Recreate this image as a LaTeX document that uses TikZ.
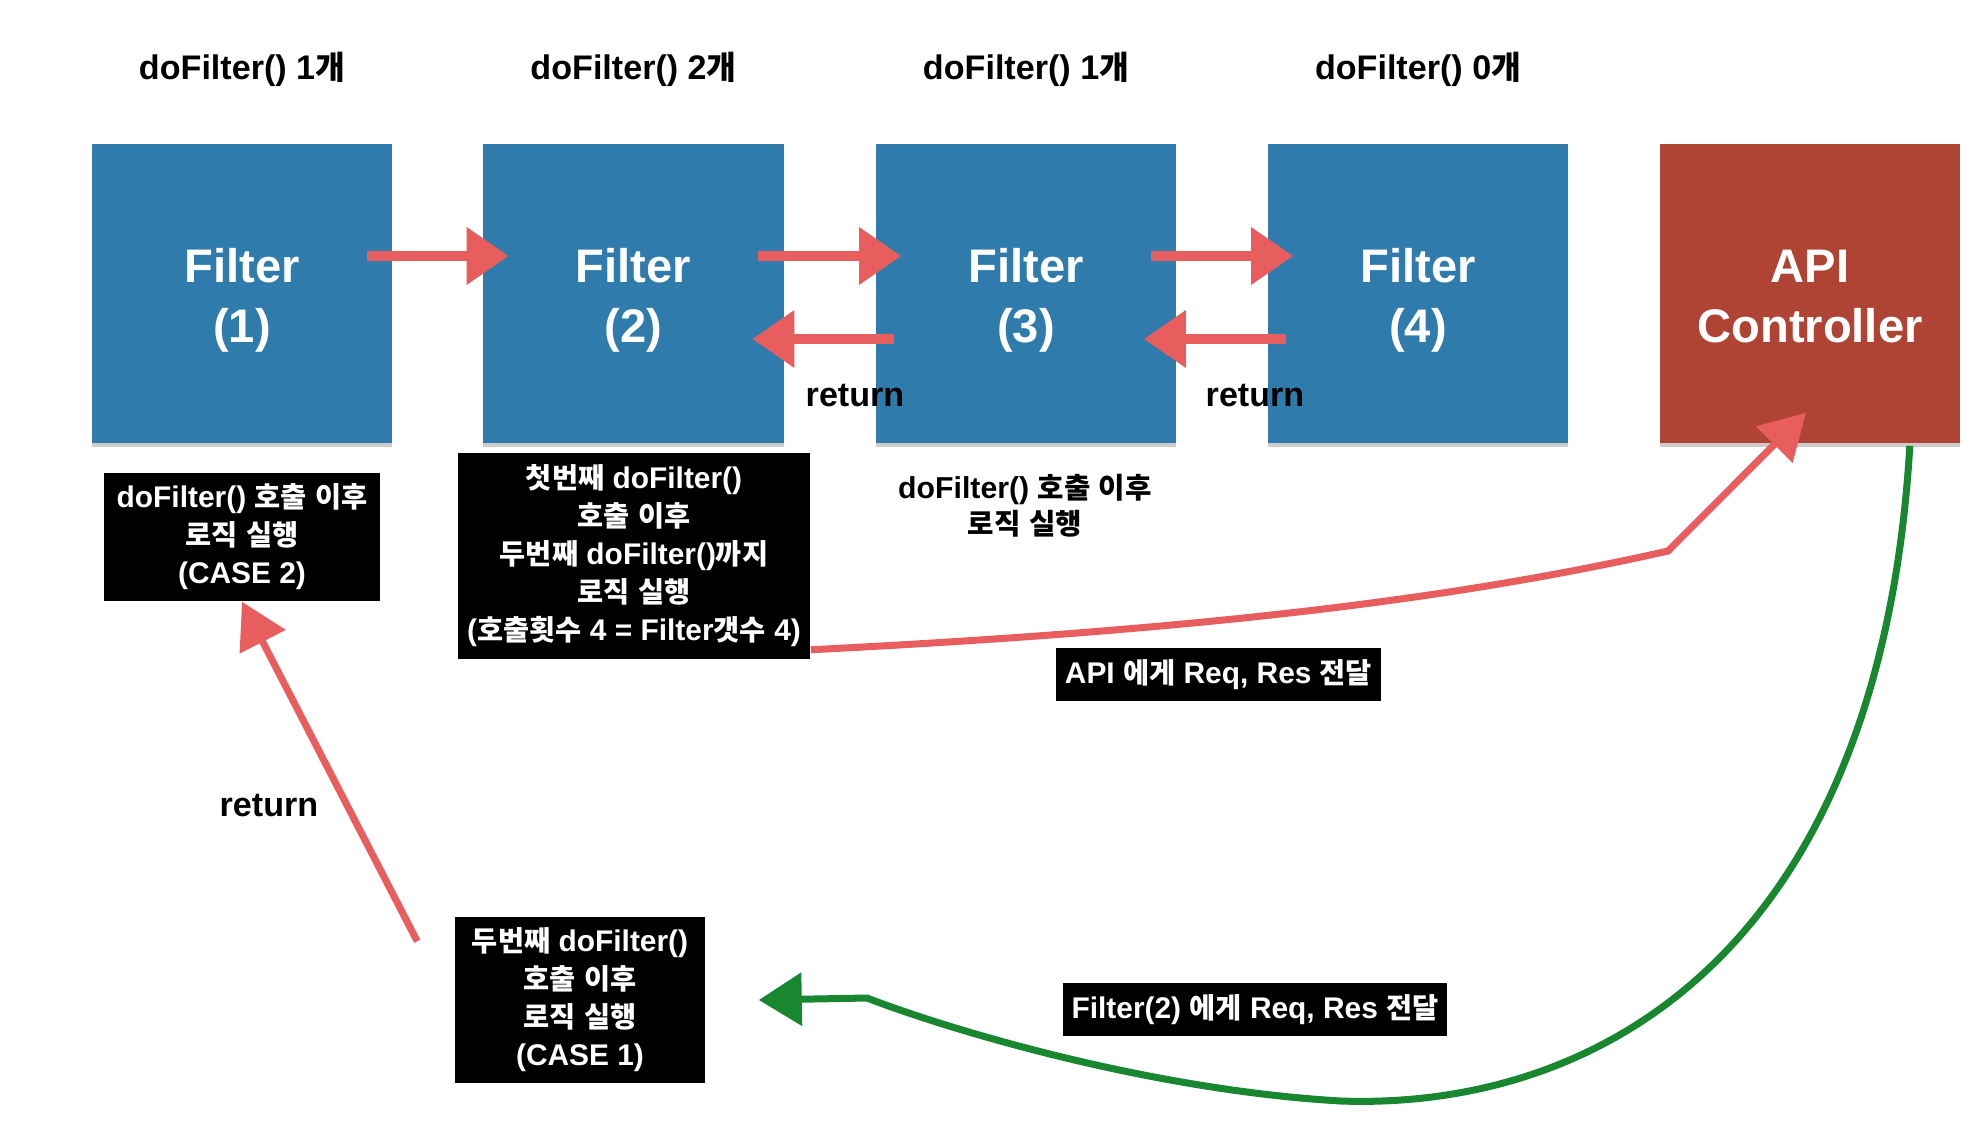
\documentclass[tikz,border=0pt]{standalone}
\usepackage{fontspec}
\setmainfont{Liberation Sans}
\newfontfamily\krfont{Noto Sans CJK KR Bold}[Scale=0.95]
\usetikzlibrary{arrows.meta,calc,shadows}

% Hangul goes to the CJK font, the rest stays in Liberation Sans
\XeTeXinterchartokenstate=1
\newXeTeXintercharclass\hangulclass
\newcount\hcode
\hcode="AC00
\loop
  \XeTeXcharclass\hcode=\hangulclass
  \ifnum\hcode<"D7A3 \advance\hcode by 1
\repeat
\XeTeXinterchartoks 0 \hangulclass = {\begingroup\krfont}
\XeTeXinterchartoks 4095 \hangulclass = {\begingroup\krfont}
\XeTeXinterchartoks \hangulclass 0 = {\endgroup}
\XeTeXinterchartoks \hangulclass 4095 = {\endgroup}

\definecolor{filterblue}{RGB}{47,123,172}
\definecolor{apired}{RGB}{176,68,52}
\definecolor{arrowred}{RGB}{232,93,93}
\definecolor{arrowgreen}{RGB}{24,135,48}

\begin{document}
\begin{tikzpicture}[x=0.01cm, y=-0.01cm,
  filterbox/.style={fill=filterblue, text=white, minimum width=3cm, minimum height=2.99cm,
    align=center, inner sep=0pt, font=\bfseries\fontsize{13.4}{17.1}\selectfont,
    drop shadow={shadow xshift=0pt, shadow yshift=-1.2pt, opacity=0.2, fill=black}},
  toplabel/.style={font=\bfseries\fontsize{9.7}{11}\selectfont},
  blackbox/.style={fill=black, text=white, align=center, inner sep=0pt,
    font=\bfseries\fontsize{8.5}{10.8}\selectfont},
  plaintext/.style={align=center, font=\bfseries\fontsize{8.6}{10.2}\selectfont},
  fwd/.style={draw=arrowred, line width=0.1cm, -{Triangle[length=0.42cm, width=0.55cm]}},
  redline/.style={draw=arrowred, line width=0.07cm, -{Triangle[length=0.45cm, width=0.5cm]}},
  greenline/.style={draw=arrowgreen, line width=0.07cm, -{Triangle[length=0.43cm, width=0.52cm]}}]
  \useasboundingbox (0,0) rectangle (1980,1142);

  % Filters and the counts above them
  \foreach \i/\x/\cnt in {1/242/1, 2/633.5/2, 3/1026/1, 4/1418/0} {
    \node[filterbox] (f\i) at (\x,293.5) {\rule{0pt}{13.8pt}Filter\\(\i)};
    \node[toplabel] (cnt\i) at (\x,69) {doFilter() \cnt{}개};
  }
  \node[filterbox, fill=apired] (api) at (1810,293.5) {\rule{0pt}{11pt}API\\Controller};

  % Chain forward and back
  \foreach \a/\b in {f1/f2, f2/f3, f3/f4}
    \draw[fwd] ($(\a.east)+(-26,-37.5)$) -- ($(\b.west)+(26,-37.5)$);
  \draw[fwd] ($(f3.west)+(19,45.5)$) -- ($(f2.east)+(-32,45.5)$);
  \draw[fwd] ($(f4.west)+(19,45.5)$) -- ($(f3.east)+(-33,45.5)$);
  \node[toplabel] (ret1) at (855,396) {return};
  \node[toplabel] (ret2) at (1255,396) {return};

  % Logic boxes
  \node[blackbox, minimum width=2.76cm, minimum height=1.28cm] (case2) at (242,537)
    {doFilter() 호출 이후\\로직 실행\\(CASE 2)};
  \node[blackbox, minimum width=3.52cm, minimum height=2.06cm] (first) at (634,556)
    {첫번째 doFilter()\\호출 이후\\두번째 doFilter()까지\\로직 실행\\(호출횟수 4 = Filter갯수 4)};
  \node[plaintext] (after3) at (1025,506) {doFilter() 호출 이후\\로직 실행};
  \node[blackbox, minimum width=2.5cm, minimum height=1.66cm] (case1) at (580,1000)
    {두번째 doFilter()\\호출 이후\\로직 실행\\(CASE 1)};
  \node[blackbox, minimum width=3.25cm, minimum height=0.53cm] (toapi) at (1218.5,674.5)
    {API 에게 Req, Res 전달};
  \node[blackbox, minimum width=3.84cm, minimum height=0.53cm] (tofilter) at (1255,1009.5)
    {Filter(2) 에게 Req, Res 전달};

  % Req, Res to the API
  \coordinate (kink) at (1668,551);
  \draw[redline] ($(first.south east)+(0,-10)$) .. controls (1200,630) and (1450,600) .. (kink)
    -- ($(api.south)+(-4,-31)$);

  % Back from the API to Filter(2)
  \coordinate (dip) at (1341,1101);
  \coordinate (bend) at (867,998);
  \draw[greenline] ($(api.south east)+(-51,2)$) .. controls (1880,950) and (1600,1110) .. (dip)
    .. controls (1150,1090) and (950,1030) .. (bend) -- ($(case1.east)+(53,0)$);

  % Return to Filter(1)
  \draw[redline] ($(case1.north west)+(-37,25)$) -- (case2.south);
  \node[toplabel] (ret3) at (269,806) {return};
\end{tikzpicture}
\end{document}
